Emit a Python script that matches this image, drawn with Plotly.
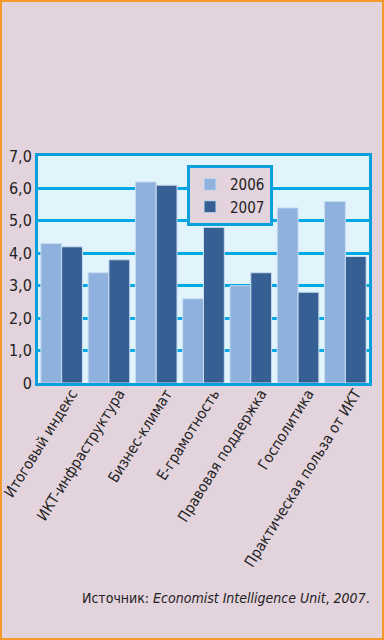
import plotly.graph_objects as go

categories = ["Итоговый индекс", "ИКТ-инфраструктура", "Бизнес-климат", "E-грамотность",
              "Правовая поддержка", "Госполитика", "Практическая польза от ИКТ"]
values_2006 = [4.3, 3.4, 6.2, 2.6, 3.0, 5.4, 5.6]
values_2007 = [4.2, 3.8, 6.1, 4.8, 3.4, 2.8, 3.9]
y_ticks = [0, 1, 2, 3, 4, 5, 6, 7]
y_tick_labels = ["0", "1,0", "2,0", "3,0", "4,0", "5,0", "6,0", "7,0"]

FONT = "Liberation Sans Narrow, DejaVu Sans Condensed, Roboto, sans-serif"
W, H = 384, 640
L, R, T, B = 38, 15, 156, 257
pw, ph = W - L - R, H - T - B

fig = go.Figure()
fig.add_trace(go.Bar(x=categories, y=values_2006, name="2006",
                     marker=dict(color="#8fb1dd", line=dict(color="#c9dcf0", width=1))))
fig.add_trace(go.Bar(x=categories, y=values_2007, name="2007",
                     marker=dict(color="#365f93", line=dict(color="#c9dcf0", width=1))))

# outer orange frame
fig.add_shape(type="rect", xref="paper", yref="paper",
              x0=-(L - 1) / pw, x1=1 + (R - 1) / pw,
              y0=-(B - 1) / ph, y1=1 + (T - 1) / ph,
              line=dict(color="#f39a2c", width=2), layer="below")

fig.add_annotation(xref="paper", yref="paper", x=1 + 3 / pw, y=-(598 - T - ph) / ph,
                   xanchor="right", yanchor="middle", showarrow=False,
                   text="Источник: <i>Economist Intelligence Unit</i>, <i>2007</i>.",
                   font=dict(family=FONT, size=14, color="#222222"))

fig.update_layout(
    width=W, height=H,
    margin=dict(l=L, r=R, t=T, b=B, pad=0, autoexpand=False),
    paper_bgcolor="#e3d3dc", plot_bgcolor="#e1f4fc",
    barmode="group", bargap=0.12, bargroupgap=0.0,
    font=dict(family=FONT, size=15, color="#222222"),
    showlegend=True,
    legend=dict(x=(187 - L) / pw, y=1 - (165 - T) / ph, xanchor="left", yanchor="top",
                bgcolor="#e3d3dc", bordercolor="#0aa0dc", borderwidth=3,
                font=dict(family=FONT, size=15, color="#222222"),
                itemwidth=30, tracegroupgap=0),
    xaxis=dict(tickangle=-58, showline=True, mirror=True, linecolor="#0aa0dc", linewidth=3,
               ticks="", automargin=False, ticklabelshift=10, ticklabelstandoff=-7,
               tickfont=dict(family=FONT, size=15, color="#222222")),
    yaxis=dict(range=[0, 7], tickvals=y_ticks, ticktext=y_tick_labels, automargin=False,
               showgrid=True, gridcolor="#00a8e6", gridwidth=2.5,
               showline=True, mirror=True, linecolor="#0aa0dc", linewidth=3,
               zeroline=False, ticks="", ticklen=0,
               tickfont=dict(family=FONT, size=16, color="#222222")),
)

fig.write_html("out.html", config={"displayModeBar": False},
               post_script="document.body.style.margin='0';document.body.style.overflow='hidden';")
